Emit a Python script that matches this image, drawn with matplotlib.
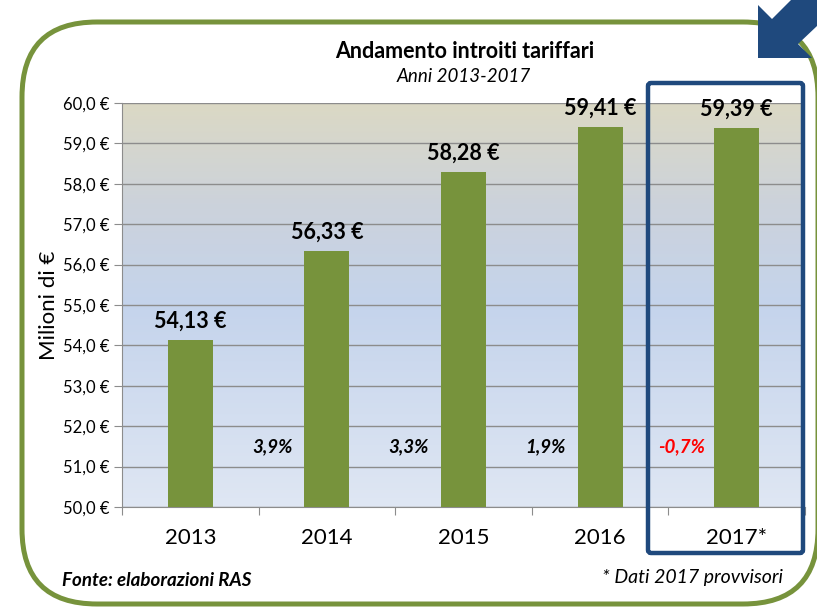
import matplotlib.pyplot as plt
import numpy as np
from matplotlib.patches import FancyBboxPatch, Polygon
from matplotlib.colors import LinearSegmentedColormap

plt.rcParams['font.family'] = ['Lato', 'DejaVu Sans']

years = ['2013', '2014', '2015', '2016', '2017*']
values = [54.13, 56.33, 58.28, 59.41, 59.39]
value_labels = ['54,13 €', '56,33 €', '58,28 €', '59,41 €', '59,39 €']
changes = ['3,9%', '3,3%', '1,9%', '-0,7%']
change_colors = ['black', 'black', 'black', 'red']
yticks = [50, 51, 52, 53, 54, 55, 56, 57, 58, 59, 60]

green = '#77933C'
navy = '#1F497D'

fig = plt.figure(figsize=(8.17, 6.09), dpi=100)
ax = fig.add_axes([122/817, 102/609, 683/817, 404/609])

# background gradient of the plot area
cmap = LinearSegmentedColormap.from_list('bg', [
    (0.0, (0.875, 0.905, 0.955)),
    (0.5, (0.77, 0.83, 0.925)),
    (0.75, (0.80, 0.825, 0.86)),
    (1.0, (0.86, 0.85, 0.77))])
grad = np.linspace(0, 1, 256).reshape(-1, 1)
ax.imshow(grad, cmap=cmap, origin='lower', aspect='auto',
          extent=[-0.5, 4.5, 50, 60], zorder=0)

x = np.arange(len(years))
ax.bar(x, values, width=0.33, color=green, zorder=3)
for xi, v, lab in zip(x, values, value_labels):
    ax.annotate(lab, (xi, v), xytext=(0, 6), textcoords='offset points',
                ha='center', va='bottom', fontsize=15.5, fontweight='bold')
for i, (c, col) in enumerate(zip(changes, change_colors)):
    ax.text(i + 0.6, 51.5, c, ha='center', va='center', fontsize=13.5,
            fontstyle='italic', fontweight='bold', color=col, zorder=4)

ax.set_xlim(-0.5, 4.5)
ax.set_ylim(50, 60)
ax.set_yticks(yticks)
ax.set_yticklabels([f'{t:.1f} €'.replace('.', ',') for t in yticks], fontsize=12)
for t in yticks:
    ax.axhline(t, color='#8C8C8C', lw=1, zorder=1)

ax.set_xticks(np.arange(-0.5, 5, 1))
ax.set_xticklabels([])
ax.set_xticks(x, minor=True)
ax.set_xticklabels(years, minor=True, fontsize=16)
ax.tick_params(axis='x', which='major', length=6, color='#8C8C8C')
ax.tick_params(axis='x', which='minor', length=0, pad=15)
ax.tick_params(axis='y', length=6, color='#8C8C8C', pad=3)
for s in ['top', 'right']:
    ax.spines[s].set_visible(False)
ax.spines['left'].set_color('#8C8C8C')
ax.spines['bottom'].set_color('#8C8C8C')
ax.set_ylabel('Milioni di €', fontsize=16, labelpad=3)

fig.text(465/817, 1 - 52/609, 'Andamento introiti tariffari', ha='center', va='center',
         fontsize=15.5, fontweight='bold')
fig.text(464/817, 1 - 77/609, 'Anni 2013-2017', ha='center', va='center',
         fontsize=13.5, fontstyle='italic')
fig.text(62/817, 1 - 580/609, 'Fonte: elaborazioni RAS', ha='left', va='center',
         fontsize=13.5, fontstyle='italic', fontweight='bold')
fig.text(783/817, 1 - 578/609, '* Dati 2017 provvisori', ha='right', va='center',
         fontsize=14, fontstyle='italic')

# decorations in pixel-based inches
tr = fig.dpi_scale_trans
fig.patches.append(FancyBboxPatch((0.22, 0.05), 7.96, 5.82,
                                  boxstyle='round,pad=0,rounding_size=0.75',
                                  fill=False, ec=green, lw=3.6, transform=tr, figure=fig))
fig.patches.append(FancyBboxPatch((6.48, 0.56), 1.55, 4.70,
                                  boxstyle='round,pad=0,rounding_size=0.03',
                                  fill=False, ec=navy, lw=3.2, transform=tr, figure=fig, zorder=5))
arrow_px = [(758, 58), (758, 5), (772, 19), (791, 0), (817, 0), (817, 26), (798, 44), (812, 58)]
fig.patches.append(Polygon([(px / 100, (609 - py) / 100) for px, py in arrow_px],
                           closed=True, fc=navy, ec='none', transform=tr, figure=fig, zorder=6))

fig.savefig('out.png', dpi=100)
